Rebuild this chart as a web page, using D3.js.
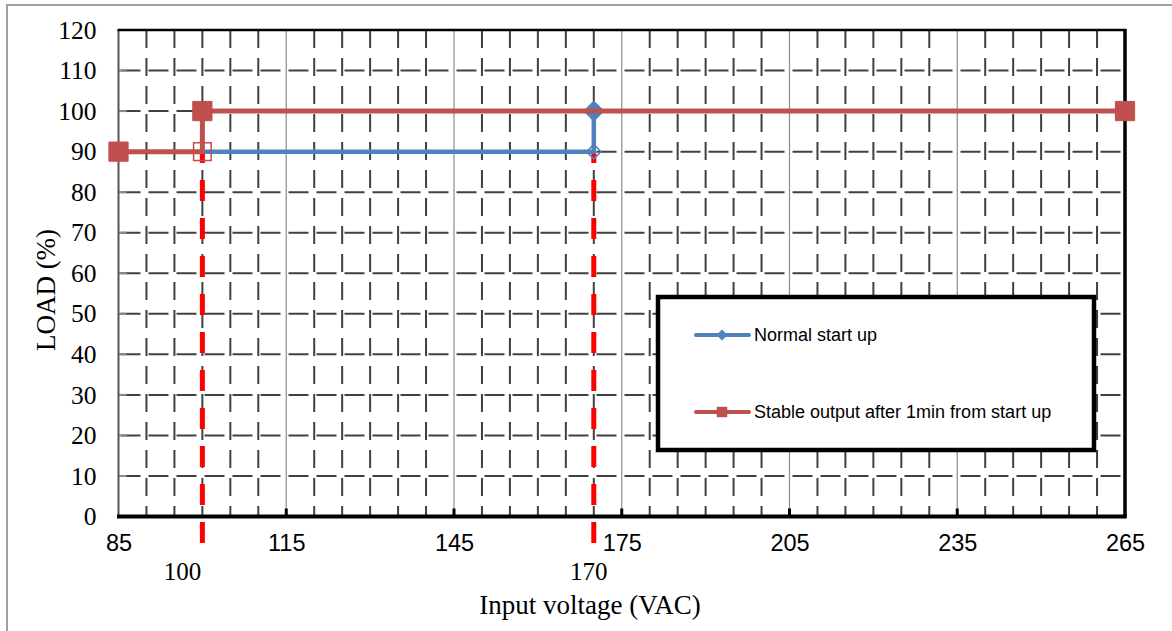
<!DOCTYPE html>
<html>
<head>
<meta charset="utf-8">
<script src="https://cdn.jsdelivr.net/npm/d3@7"></script>
<style>
  body { margin: 0; background: #fff; }
  svg { display: block; }
</style>
</head>
<body>
<svg id="chart"></svg>
<script>
// chart values
const xTicks = [85, 115, 145, 175, 205, 235, 265];
const yTicks = [0, 10, 20, 30, 40, 50, 60, 70, 80, 90, 100, 110, 120];
const markVoltages = [100, 170];

const normalX = [100, 170, 170];
const normalY = [90, 90, 100];
const normalMarker = ["none", "hollow", "filled"];

const stableX = [85, 100, 100, 265];
const stableY = [90, 90, 100, 100];
const stableMarker = ["filled", "hollow", "filled", "filled"];

const seriesNames = ["Normal start up", "Stable output after 1min from start up"];

// Declare the chart dimensions
const width = 1172;
const height = 631;
const plotL = 118.5, plotR = 1125, plotT = 30, plotB = 516.5;
const blue = "#4F81BD", red = "#C0504D";

const x = d3.scaleLinear().domain([85, 265]).range([plotL, plotR]);
const y = d3.scaleLinear().domain([0, 120]).range([plotB, plotT]);

const svg = d3.select("#chart")
    .attr("width", width)
    .attr("height", height);

// outer frame
svg.append("path")
    .attr("d", `M7,${height + 10}V5H${width + 5}`)
    .attr("fill", "none")
    .attr("stroke", "#a0a0a0")
    .attr("stroke-width", 2);

// grid
const majors = xTicks.slice(1, -1);
const minors = d3.range(90, 265, 5).filter(v => !majors.includes(v));

svg.append("g").selectAll("line")
    .data(minors)
    .join("line")
    .attr("x1", d => x(d)).attr("x2", d => x(d))
    .attr("y1", plotT).attr("y2", plotB)
    .attr("stroke", "#404040")
    .attr("stroke-width", 2)
    .attr("stroke-dasharray", "18,10");

svg.append("g").selectAll("line")
    .data(majors)
    .join("line")
    .attr("x1", d => x(d)).attr("x2", d => x(d))
    .attr("y1", plotT).attr("y2", plotB)
    .attr("stroke", "#8c8c8c")
    .attr("stroke-width", 1.2);

svg.append("g").selectAll("line")
    .data(yTicks.slice(1, -1))
    .join("line")
    .attr("x1", plotL + 2).attr("x2", plotR)
    .attr("y1", d => y(d)).attr("y2", d => y(d))
    .attr("stroke", "#404040")
    .attr("stroke-width", 2)
    .attr("stroke-dasharray", "20,8");

// small tick marks inside
svg.append("g").selectAll("line")
    .data(yTicks.slice(1, -1))
    .join("line")
    .attr("x1", plotL).attr("x2", plotL + 8)
    .attr("y1", d => y(d)).attr("y2", d => y(d))
    .attr("stroke", "#8c8c8c")
    .attr("stroke-width", 2);

svg.append("g").selectAll("line")
    .data(majors)
    .join("line")
    .attr("x1", d => x(d)).attr("x2", d => x(d))
    .attr("y1", plotB - 8).attr("y2", plotB)
    .attr("stroke", "#000")
    .attr("stroke-width", 3);

// plot frame
svg.append("line").attr("x1", plotL).attr("x2", plotL).attr("y1", plotT).attr("y2", plotB)
    .attr("stroke", "#555").attr("stroke-width", 2);
svg.append("line").attr("x1", plotL - 1).attr("x2", plotR + 1).attr("y1", plotT).attr("y2", plotT)
    .attr("stroke", "#000").attr("stroke-width", 2.5);
svg.append("line").attr("x1", plotR).attr("x2", plotR).attr("y1", plotT - 1).attr("y2", plotB)
    .attr("stroke", "#000").attr("stroke-width", 3.5);
svg.append("line").attr("x1", plotL - 1.5).attr("x2", plotR + 1.75).attr("y1", plotB).attr("y2", plotB)
    .attr("stroke", "#000").attr("stroke-width", 4);

// axes labels
const yAxis = d3.axisLeft(y).tickValues(yTicks).tickSize(0).tickPadding(0);
const gy = svg.append("g")
    .attr("transform", `translate(${plotL - 22},0)`)
    .call(yAxis);
gy.select(".domain").remove();
gy.selectAll("text")
    .attr("font-family", "'Liberation Serif', 'Times New Roman', serif")
    .attr("font-size", 25.5)
    .attr("fill", "#000");

const xAxis = d3.axisBottom(x).tickValues(xTicks).tickSize(0).tickPadding(0);
const gx = svg.append("g")
    .attr("transform", `translate(0,${plotB + 18})`)
    .call(xAxis);
gx.select(".domain").remove();
gx.selectAll("text")
    .attr("font-family", "'Liberation Sans', Arial, sans-serif")
    .attr("font-size", 23.5)
    .attr("fill", "#000");

// red dashed marker lines
svg.append("g").selectAll("line")
    .data(markVoltages)
    .join("line")
    .attr("x1", d => x(d)).attr("x2", d => x(d))
    .attr("y1", 543).attr("y2", y(90))
    .attr("stroke", "#ff0000")
    .attr("stroke-width", 5)
    .attr("stroke-dasharray", "21,17");

svg.append("g").selectAll("text")
    .data(markVoltages)
    .join("text")
    .attr("x", d => x(d) + (d === 100 ? -20 : -5))
    .attr("y", 580)
    .attr("text-anchor", "middle")
    .attr("font-family", "'Liberation Serif', 'Times New Roman', serif")
    .attr("font-size", 25)
    .text(d => d);

// axis titles
svg.append("text")
    .attr("x", 590).attr("y", 614)
    .attr("text-anchor", "middle")
    .attr("font-family", "'Liberation Serif', 'Times New Roman', serif")
    .attr("font-size", 27)
    .text("Input voltage (VAC)");

svg.append("text")
    .attr("transform", "translate(55,290) rotate(-90)")
    .attr("text-anchor", "middle")
    .attr("font-family", "'Liberation Serif', 'Times New Roman', serif")
    .attr("font-size", 27)
    .text("LOAD (%)");

// series
const line = d3.line().x(d => x(d[0])).y(d => y(d[1]));
const normal = normalX.map((v, i) => [v, normalY[i], normalMarker[i]]);
const stable = stableX.map((v, i) => [v, stableY[i], stableMarker[i]]);

function drawSeries(data, color, lw, rot, size, hollowSize) {
    const g = svg.append("g");
    g.append("path")
        .datum(data)
        .attr("d", line)
        .attr("fill", "none")
        .attr("stroke", color)
        .attr("stroke-width", lw)
        .attr("stroke-linejoin", "miter");
    g.selectAll("path.m")
        .data(data.filter(d => d[2] !== "none"))
        .join("path")
        .attr("class", "m")
        .attr("transform", d => `translate(${x(d[0])},${y(d[1])}) rotate(${rot})`)
        .attr("d", d => d3.symbol(d3.symbolSquare, d[2] === "filled" ? size : hollowSize)())
        .attr("fill", d => d[2] === "filled" ? color : "none")
        .attr("stroke", color)
        .attr("stroke-width", d => d[2] === "filled" ? 1 : 1.5);
}

drawSeries(normal, blue, 4.5, 45, 200, 105);
drawSeries(stable, red, 5, 0, 370, 310);

// legend
const lg = svg.append("g");
lg.append("rect")
    .attr("x", 658).attr("y", 297)
    .attr("width", 436).attr("height", 153)
    .attr("fill", "#fff")
    .attr("stroke", "#000")
    .attr("stroke-width", 4.5);

const legendRows = [
    { name: seriesNames[0], color: blue, rot: 45, size: 60, yy: 335 },
    { name: seriesNames[1], color: red, rot: 0, size: 110, yy: 412 }
];
legendRows.forEach(r => {
    lg.append("line")
        .attr("x1", 696).attr("x2", 749)
        .attr("y1", r.yy).attr("y2", r.yy)
        .attr("stroke", r.color)
        .attr("stroke-width", 4)
        .attr("stroke-linecap", "round");
    lg.append("path")
        .attr("transform", `translate(722,${r.yy}) rotate(${r.rot})`)
        .attr("d", d3.symbol(d3.symbolSquare, r.size)())
        .attr("fill", r.color);
    lg.append("text")
        .attr("x", 754).attr("y", r.yy)
        .attr("dy", "0.36em")
        .attr("font-family", "'Liberation Sans', Arial, sans-serif")
        .attr("font-size", 18)
        .text(r.name);
});
</script>
</body>
</html>
